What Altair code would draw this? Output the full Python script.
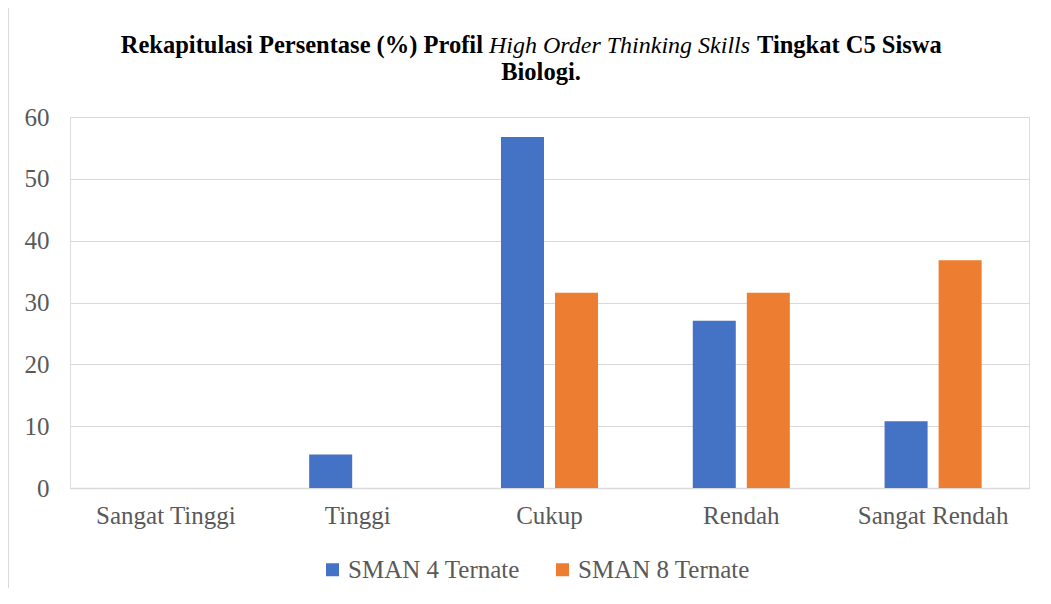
import altair as alt
import pandas as pd

categories = ["Sangat Tinggi", "Tinggi", "Cukup", "Rendah", "Sangat Rendah"]
series_names = ["SMAN 4 Ternate", "SMAN 8 Ternate"]
sman4 = [0, 5.41, 56.76, 27.03, 10.81]
sman8 = [0, 0, 31.58, 31.58, 36.84]
colors = ["#4472C4", "#ED7D31"]
y_ticks = [0, 10, 20, 30, 40, 50, 60]

title_left = ["Rekapitulasi Persentase (%) Profil"]
title_italic = ["High Order Thinking Skills"]
title_right = ["Tingkat C5 Siswa"]
title_line2 = ["Biologi."]

FONT = "Liberation Serif"
GRAY = "#595959"
GRID = "#d9d9d9"

rows = []
for c, a, b in zip(categories, sman4, sman8):
    rows.append({"Kategori": c, "Sekolah": series_names[0], "Persen": a})
    rows.append({"Kategori": c, "Sekolah": series_names[1], "Persen": b})
df = pd.DataFrame(rows)

bars = alt.Chart(df).mark_bar().encode(
    x=alt.X("Kategori:N", sort=categories,
            scale=alt.Scale(paddingInner=0.494, paddingOuter=0.247),
            axis=alt.Axis(title=None, labelAngle=0, ticks=False, labelPadding=15,
                          labelFont=FONT, labelFontSize=25, labelColor=GRAY,
                          domainColor=GRID, domainWidth=1.5, grid=False)),
    xOffset=alt.XOffset("Sekolah:N", sort=series_names,
                        scale=alt.Scale(paddingInner=0.204, paddingOuter=0)),
    y=alt.Y("Persen:Q", scale=alt.Scale(domain=[0, 60], nice=False),
            axis=alt.Axis(title=None, values=y_ticks, ticks=False, domain=False,
                          labelPadding=21, labelFont=FONT, labelFontSize=25,
                          labelColor=GRAY, gridColor=GRID, gridWidth=1)),
    color=alt.Color("Sekolah:N", sort=series_names,
                    scale=alt.Scale(domain=series_names, range=colors),
                    legend=alt.Legend(title=None, orient="none", direction="horizontal",
                                      legendX=250, legendY=440, padding=0,
                                      symbolType="square",
                                      symbolSize=169, symbolStrokeWidth=0,
                                      labelFont=FONT, labelFontSize=25, labelColor=GRAY,
                                      labelLimit=400, labelOffset=3, columnPadding=30)),
)

def title_part(values, x, y, align, size, weight="bold", style="normal"):
    return alt.Chart(pd.DataFrame({"t": values})).mark_text(
        font=FONT, fontSize=size, fontWeight=weight, fontStyle=style,
        align=align, baseline="alphabetic", color="#000000",
    ).encode(text="t:N", x=alt.value(x), y=alt.value(y))

t1 = title_part(title_left, 413, -64, "right", 24.5)
t2 = title_part(title_italic, 419, -64, "left", 24, weight="normal", style="italic")
t3 = title_part(title_right, 687, -64, "left", 24.5)
t4 = title_part(title_line2, 471, -37, "center", 24.5)

border = alt.Chart(pd.DataFrame({"k": [0]})).mark_rule(color=GRID, strokeWidth=2).encode(
    x=alt.value(-62), y=alt.value(-109), y2=alt.value(479)
)

chart = alt.layer(bars, t1, t2, t3, t4, border).properties(
    width=959, height=371,
    autosize=alt.AutoSizeParams(type="none"),
    padding={"left": 62, "top": 109, "right": 10, "bottom": 100},
).configure_view(stroke=None).configure(background="white")

chart.save("out.html", embed_options={"renderer": "svg", "actions": False})
